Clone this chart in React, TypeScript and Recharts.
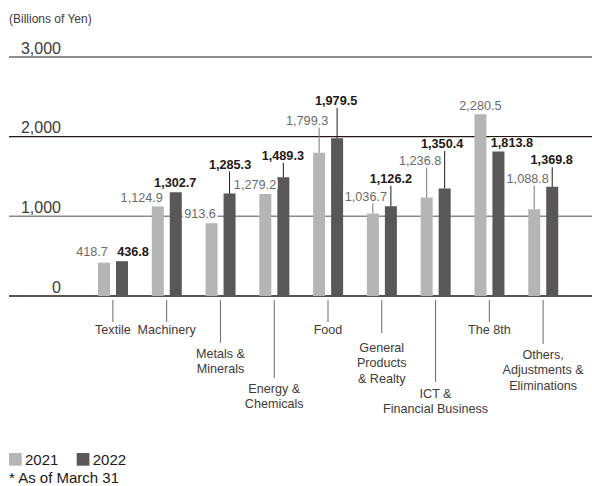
import React from "react";
import { BarChart, Bar, XAxis, YAxis, CartesianGrid, LabelList } from "recharts";

// Segment names ("\n" breaks a label over several lines)
const categories = [
  "Textile",
  "Machinery",
  "Metals &\nMinerals",
  "Energy &\nChemicals",
  "Food",
  "General\nProducts\n& Realty",
  "ICT &\nFinancial Business",
  "The 8th",
  "Others,\nAdjustments &\nEliminations",
];

// Segment assets, billions of yen (as of March 31)
const values2021 = [418.7, 1124.9, 913.6, 1279.2, 1799.3, 1036.7, 1236.8, 2280.5, 1088.8];
const values2022 = [436.8, 1302.7, 1285.3, 1489.3, 1979.5, 1126.2, 1350.4, 1813.8, 1369.8];

const yTicks = [0, 1000, 2000, 3000];
const yDomain: [number, number] = [0, 3000];

const series = [
  { key: "y2021", name: "2021", color: "#b5b5b6" },
  { key: "y2022", name: "2022", color: "#595757" },
];

const data = categories.map((category, i) => ({
  category,
  y2021: values2021[i],
  y2022: values2022[i],
}));

const FONT = "'Liberation Sans', Arial, Helvetica, sans-serif";

// Value-label placement: [x shift from bar centre, text centre above bar top, leader line]
type LabelPlacement = [number, number, boolean];
const labelLayout2021: LabelPlacement[] = [
  [-12, -11, false],
  [-16, -9, false],
  [-11.5, -10, false],
  [-10.3, -10, false],
  [-12, -32.6, true],
  [-7, -17.4, true],
  [-6.5, -37.4, true],
  [0, -9, false],
  [-6.5, -31.2, true],
];
const labelLayout2022: LabelPlacement[] = [
  [11, -10, false],
  [-0.5, -10, false],
  [0.5, -29.6, true],
  [-0.5, -22, true],
  [-1, -38, true],
  [0, -28, true],
  [-2.5, -45, true],
  [13.5, -9.5, false],
  [-0.5, -27, true],
];

// Category tick placement below the axis: [leader end, first text line centre]
const tickLayout: [number, number][] = [
  [26, 33],
  [26, 33],
  [47, 57],
  [82, 92],
  [26, 33],
  [37, 51],
  [86, 97],
  [26, 33],
  [48, 58],
];

// Stroke for each horizontal rule, in the order of yTicks
const gridStyles = [
  { stroke: "#231815", width: 1.6 },
  { stroke: "#8a8a8a", width: 1.5 },
  { stroke: "#231815", width: 1.2 },
  { stroke: "#6a6a6a", width: 1.6 },
];

const VALUE_FONT_SIZE = 12.7;

const formatValue = (v: number) =>
  v.toLocaleString("en-US", { minimumFractionDigits: 1, maximumFractionDigits: 1 });

const textWidth = (s: string, size: number) => {
  let w = 0;
  for (const ch of s) w += ch === "," || ch === "." ? 0.278 : 0.556;
  return w * size;
};

const makeValueLabel =
  (layout: LabelPlacement[], color: string, leaderColor: string, weight: number) =>
  (props: any) => {
    const { x, y, width, value, index } = props;
    const place = layout[index] || [0, -10, false];
    const [dx, dy, leader] = place;
    const barCx = Number(x) + Number(width) / 2;
    const cx = barCx + dx;
    const cy = Number(y) + dy;
    const text = formatValue(Number(value));
    const w = textWidth(text, VALUE_FONT_SIZE);
    return (
      <g>
        <rect x={cx - w / 2 - 1.5} y={cy - 4.6} width={w + 3} height={9.6} fill="#ffffff" />
        {leader && (
          <line
            x1={barCx}
            x2={barCx}
            y1={cy + 7.5}
            y2={Number(y)}
            stroke={leaderColor}
            strokeWidth={1}
          />
        )}
        <text
          x={cx}
          y={cy + VALUE_FONT_SIZE * 0.36}
          textAnchor="middle"
          fontFamily={FONT}
          fontSize={VALUE_FONT_SIZE}
          fontWeight={weight}
          fill={color}
        >
          {text}
        </text>
      </g>
    );
  };

const CategoryTick = (props: any) => {
  const { x, y, payload, index } = props;
  const lines = String(payload.value).split("\n");
  const [drop, first] = tickLayout[index] || [26, 33];
  return (
    <g>
      <line x1={x} x2={x} y1={y + 4} y2={y + drop} stroke="#6a6a6a" strokeWidth={1} />
      {lines.map((line, i) => (
        <text
          key={i}
          x={x}
          y={y + first + i * 15.6 + 4.5}
          textAnchor="middle"
          fontFamily={FONT}
          fontSize={12.6}
          fill="#3e3a39"
        >
          {line}
        </text>
      ))}
    </g>
  );
};

const ValueTick = (props: any) => {
  const { y, payload } = props;
  return (
    <text
      x={61}
      y={y - 3.3}
      textAnchor="end"
      fontFamily={FONT}
      fontSize={16}
      fill="#3e3a39"
    >
      {Number(payload.value).toLocaleString("en-US")}
    </text>
  );
};

const GridLine = (props: any) => {
  const { x1, x2, y1, y2, index } = props;
  const style = gridStyles[index] || gridStyles[1];
  return (
    <line
      key={`grid-${index}`}
      x1={x1}
      x2={x2}
      y1={y1}
      y2={y2}
      stroke={style.stroke}
      strokeWidth={style.width}
    />
  );
};

export default function App() {
  return (
    <div
      style={{
        position: "absolute",
        left: 0,
        top: 0,
        width: 592,
        height: 486,
        background: "#ffffff",
        overflow: "hidden",
      }}
    >
      <BarChart
        width={592}
        height={486}
        data={data}
        margin={{ top: 57, right: 0, bottom: 160, left: 0 }}
        barGap={6}
      >
        <CartesianGrid vertical={false} horizontal={GridLine as any} />
        <XAxis
          dataKey="category"
          type="category"
          height={30}
          padding={{ left: 77, right: 22 }}
          axisLine={false}
          tickLine={false}
          tickSize={0}
          tickMargin={0}
          interval={0}
          tick={<CategoryTick />}
        />
        <YAxis
          type="number"
          domain={yDomain}
          ticks={yTicks}
          width={9}
          axisLine={false}
          tickLine={false}
          tickSize={0}
          tickMargin={0}
          interval={0}
          tick={<ValueTick />}
        />
        <Bar dataKey="y2021" name="2021" fill={series[0].color} barSize={12} isAnimationActive={false}>
          <LabelList
            dataKey="y2021"
            content={makeValueLabel(labelLayout2021, "#6a6a6a", "#7a7a7a", 400)}
          />
        </Bar>
        <Bar dataKey="y2022" name="2022" fill={series[1].color} barSize={12} isAnimationActive={false}>
          <LabelList
            dataKey="y2022"
            content={makeValueLabel(labelLayout2022, "#231815", "#231815", 700)}
          />
        </Bar>
      </BarChart>

      {/* Unit caption, legend and footnote */}
      <svg
        width={592}
        height={486}
        style={{ position: "absolute", left: 0, top: 0, pointerEvents: "none" }}
      >
        <text x={9} y={23} fontFamily={FONT} fontSize={12} fill="#3e3a39">
          (Billions of Yen)
        </text>
        {series.map((s, i) => (
          <g key={s.key} transform={`translate(${9 + i * 67.7},0)`}>
            <rect x={0} y={453} width={12.7} height={12.7} fill={s.color} />
            <text x={16} y={465} fontFamily={FONT} fontSize={15} fill="#231815">
              {s.name}
            </text>
          </g>
        ))}
        <text x={9} y={482.5} fontFamily={FONT} fontSize={15} fill="#231815">
          * As of March 31
        </text>
      </svg>
    </div>
  );
}
